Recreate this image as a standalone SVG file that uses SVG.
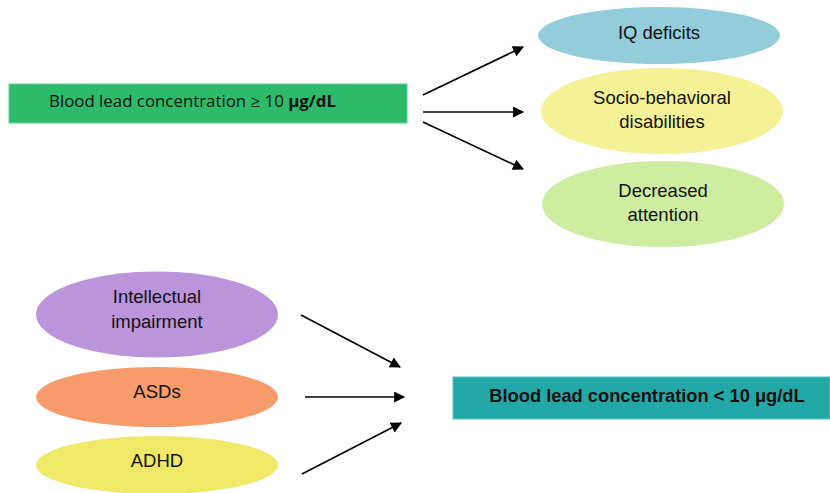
<svg xmlns="http://www.w3.org/2000/svg" width="830" height="493" viewBox="0 0 830 493">
<style>
.t{font-family:"Liberation Sans",Arial,sans-serif;font-size:18.5px;fill:#111;text-anchor:middle}
.b{font-weight:bold;font-size:18.3px}
.c{stroke:#000;stroke-width:1.6;fill:none;marker-end:url(#ah)}
</style>
<defs>
<marker id="ah" viewBox="0 0 10 10" refX="9" refY="5" markerWidth="12" markerHeight="11" markerUnits="userSpaceOnUse" orient="auto">
<path d="M0,0 L10,5 L0,10 z" fill="#000"/>
</marker>
</defs>
<rect width="830" height="493" fill="#fff"/>
<g id="high">
<rect x="9" y="84" width="398" height="39" fill="#2dba6a" stroke="#5fcf8f" stroke-width="1"/>
<text x="49" y="107" textLength="287" lengthAdjust="spacingAndGlyphs" style="font-family:'Open Sans','Noto Sans',sans-serif;font-size:16.2px;fill:#111">Blood lead concentration ≥ 10 <tspan font-weight="bold">μg/dL</tspan></text>
</g>
<g id="iq">
<ellipse cx="659" cy="35.5" rx="121" ry="28.5" fill="#93cddc"/>
<text class="t" x="659" y="39">IQ deficits</text>
</g>
<g id="socio">
<ellipse cx="662" cy="111" rx="121" ry="43" fill="#f5f197"/>
<text class="t" x="662" y="104">Socio-behavioral</text>
<text class="t" x="662" y="128">disabilities</text>
</g>
<g id="attention">
<ellipse cx="663" cy="204" rx="121" ry="43" fill="#cfeda0"/>
<text class="t" x="663" y="197">Decreased</text>
<text class="t" x="663" y="221">attention</text>
</g>
<g id="intellectual">
<ellipse cx="157" cy="314.5" rx="121" ry="43" fill="#bb94db"/>
<text class="t" x="157" y="303">Intellectual</text>
<text class="t" x="157" y="328">impairment</text>
</g>
<g id="asds">
<ellipse cx="157" cy="397" rx="121" ry="30" fill="#f89b6b"/>
<text class="t" x="157" y="398">ASDs</text>
</g>
<g id="adhd">
<ellipse cx="157" cy="465" rx="121" ry="29" fill="#f0e968"/>
<text class="t" x="157" y="467">ADHD</text>
</g>
<g id="low">
<rect x="453" y="377" width="377" height="42" fill="#23a8a8" stroke="#5cc2bd" stroke-width="1"/>
<text class="t b" x="647" y="402">Blood lead concentration &lt; 10 μg/dL</text>
</g>
<g id="connectors">
<line class="c" x1="423" y1="95" x2="523" y2="47"/>
<line class="c" x1="423" y1="112" x2="523" y2="112"/>
<line class="c" x1="423" y1="122" x2="523" y2="169"/>
<line class="c" x1="301" y1="315" x2="400" y2="367"/>
<line class="c" x1="305" y1="397" x2="404" y2="397"/>
<line class="c" x1="302" y1="474" x2="401" y2="423"/>
</g>
</svg>
